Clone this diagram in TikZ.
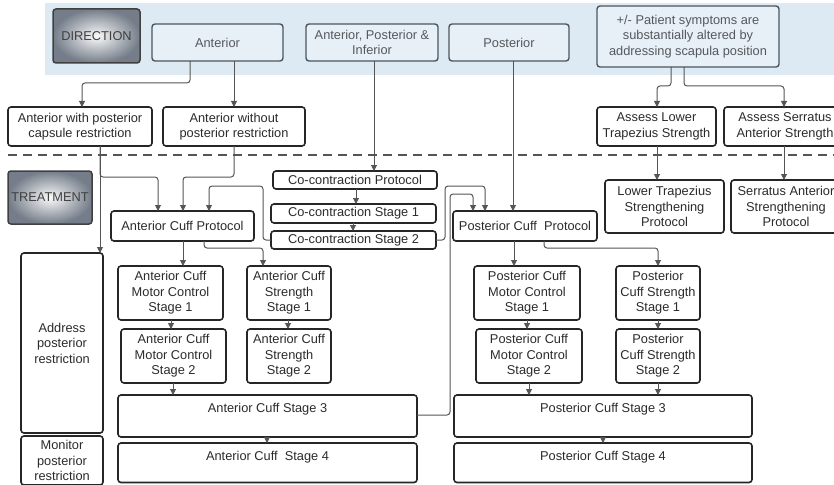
\documentclass[tikz,border=0pt]{standalone}
\usepackage{fontspec}
\setmainfont{Liberation Sans}
\usetikzlibrary{arrows.meta,calc}
\definecolor{band}{HTML}{DDEAF3}
\definecolor{tfill}{HTML}{E6F0F6}
\definecolor{tdraw}{HTML}{4A5660}
\definecolor{ttext}{HTML}{55595D}
\definecolor{btext}{HTML}{2B2B2B}
\definecolor{lcol}{HTML}{555555}
\definecolor{shadeout}{HTML}{747D89}
\begin{document}
\begin{tikzpicture}[x=1pt,y=-1pt,
  base/.style={rounded corners=3pt, anchor=north west, inner sep=1pt, outer sep=0pt, align=center, font=\fontsize{12.8}{15.5}\selectfont},
  tbox/.style={base, draw=tdraw, fill=tfill, line width=1.4pt, text=ttext},
  bbox/.style={base, draw=black!85, fill=white, line width=1.6pt, text=btext},
  hbox/.style={base, draw=black!75, line width=1.5pt, inner color=white!96!gray, outer color=shadeout, text=black!75},
  stbox/.style={bbox, inner ysep=0pt, text height=17.5pt},
  arr/.style={draw=lcol, line width=1pt, rounded corners=3pt, -{Triangle[length=6pt,width=6pt]}}]
\useasboundingbox (0,0) rectangle (834,484);
\fill[band] (45,3) rectangle (834,75);
% direction row
\node[hbox, minimum width=87pt, minimum height=54pt] (dir) at (53,9) {DIRECTION};
\node[tbox, minimum width=131pt, minimum height=37pt] (ant) at (152,24) {Anterior};
\node[tbox, minimum width=132pt, minimum height=37pt] (api) at (306,24) {Anterior, Posterior \&\\Inferior};
\node[tbox, minimum width=120pt, minimum height=37pt] (pos) at (449,24) {Posterior};
\node[tbox, minimum width=182pt, minimum height=61pt] (pat) at (597,6) {+/- Patient symptoms are\\substantially altered by\\addressing scapula position};
% second row
\node[bbox, minimum width=144pt, minimum height=39pt] (awp) at (8,107) {Anterior with posterior\\capsule restriction};
\node[bbox, minimum width=142pt, minimum height=39pt] (awo) at (163,107) {Anterior without\\posterior restriction};
\node[bbox, minimum width=119pt, minimum height=39pt] (alt) at (597,107) {Assess Lower\\Trapezius Strength};
\node[bbox, minimum width=122pt, minimum height=39pt] (asa) at (724,107) {Assess Serratus\\Anterior Strength};
\draw[lcol, line width=1.3pt, dash pattern=on 9pt off 6pt] (8,155) -- (834,155);
% treatment
\node[hbox, minimum width=84pt, minimum height=53pt, inner sep=0pt] (trt) at (8,171) {TREATMENT};
\node[bbox, minimum width=164pt, minimum height=18pt, inner sep=0pt] (ccp) at (273,171) {Co-contraction Protocol};
\node[bbox, minimum width=165pt, minimum height=19pt, inner sep=0pt] (cc1) at (271,204) {Co-contraction Stage 1};
\node[bbox, minimum width=165pt, minimum height=18pt, inner sep=0pt] (cc2) at (271,231) {Co-contraction Stage 2};
\node[bbox, minimum width=143pt, minimum height=30pt] (acp) at (111,211) {Anterior Cuff Protocol};
\node[bbox, minimum width=144pt, minimum height=30pt] (pcp) at (453,211) {Posterior Cuff\ \ Protocol};
\node[bbox, minimum width=119pt, minimum height=53pt] (ltp) at (605,180) {Lower Trapezius\\Strengthening\\Protocol};
\node[bbox, minimum width=110pt, minimum height=53pt] (sap) at (731,180) {Serratus Anterior\\Strengthening\\Protocol};
\node[bbox, minimum width=82pt, minimum height=180pt] (apr) at (21,253) {Address\\posterior\\restriction};
\node[bbox, minimum width=82pt, minimum height=49pt] (mpr) at (21,436) {Monitor\\posterior\\restriction};
\node[bbox, minimum width=105pt, minimum height=54pt] (amc1) at (118,266) {Anterior Cuff\\Motor Control\\Stage 1};
\node[bbox, minimum width=84pt, minimum height=54pt] (as1) at (247,266) {Anterior Cuff\\Strength\\Stage 1};
\node[bbox, minimum width=105pt, minimum height=54pt] (amc2) at (121,329) {Anterior Cuff\\Motor Control\\Stage 2};
\node[bbox, minimum width=84pt, minimum height=54pt] (as2) at (247,329) {Anterior Cuff\\Strength\\Stage 2};
\node[stbox, minimum width=299pt, text depth=24.5pt] (as3) at (118,395) {Anterior Cuff Stage 3};
\node[stbox, minimum width=299pt, text depth=22pt] (as4) at (118,443) {Anterior Cuff\ \ Stage 4};
\node[bbox, minimum width=106pt, minimum height=54pt] (pmc1) at (474,266) {Posterior Cuff\\Motor Control\\Stage 1};
\node[bbox, minimum width=84pt, minimum height=54pt] (ps1) at (616,266) {Posterior\\Cuff Strength\\Stage 1};
\node[bbox, minimum width=106pt, minimum height=54pt] (pmc2) at (476,329) {Posterior Cuff\\Motor Control\\Stage 2};
\node[bbox, minimum width=84pt, minimum height=54pt] (ps2) at (616,329) {Posterior\\Cuff Strength\\Stage 2};
\node[stbox, minimum width=298pt, text depth=24.5pt] (ps3) at (454,395) {Posterior Cuff Stage 3};
\node[stbox, minimum width=298pt, text depth=22pt] (ps4) at (454,443) {Posterior Cuff Stage 4};
% connectors
\draw[arr] ($(ant.south west)+(38,0)$) -- ++(0,22) -| ($(awp.north west)+(74,0)$);
\draw[arr] ($(ant.south west)+(82,0)$) -- ($(awo.north west)+(71,0)$);
\draw[arr] ($(api.south west)+(68,0)$) -- ($(ccp.north west)+(101,0)$);
\draw[arr] ($(pos.south west)+(64,0)$) -- ($(pcp.north west)+(60,0)$);
\draw[arr] ($(pat.south west)+(74,0)$) -- ++(0,19) -| ($(alt.north west)+(60,0)$);
\draw[arr] ($(pat.south west)+(87,0)$) -- ++(0,19) -| ($(asa.north west)+(60,0)$);
\draw[arr] ($(alt.south west)+(60,0)$) -- ($(ltp.north west)+(52,0)$);
\draw[arr] ($(asa.south west)+(60,0)$) -- ($(sap.north west)+(53,0)$);
\draw[arr] ($(awp.south west)+(92,0)$) -- ++(0,31) -| ($(acp.north west)+(47,0)$);
\draw[arr] ($(awp.south west)+(92,0)$) -- ($(apr.north west)+(79,0)$);
\draw[arr] ($(awo.south west)+(71,0)$) -- ++(0,31) -| ($(acp.north west)+(72,0)$);
\draw[arr] (cc2.west) -- ++(-8,0) -- ++(0,-54) -| ($(acp.north west)+(98,0)$);
\draw[arr] ($(ccp.south west)+(83,0)$) -- ($(cc1.north west)+(85,0)$);
\draw[arr] ($(cc1.south west)+(82,0)$) -- ($(cc2.north west)+(82,0)$);
\draw[arr] (cc2.east) -- ++(9,0) -- ++(0,-54) -| ($(pcp.north west)+(32,0)$);
\draw[arr] ($(as3.north east)+(0,20)$) -- ++(33,0) -- ++(0,-221) -| ($(pcp.north west)+(20,0)$);
\draw[arr] ($(acp.south west)+(72,0)$) -- ($(amc1.north west)+(65,0)$);
\draw[arr] ($(acp.south west)+(93,0)$) -- ++(0,7) -| ($(as1.north west)+(16,0)$);
\draw[arr] ($(amc1.south west)+(53,0)$) -- ($(amc2.north west)+(50,0)$);
\draw[arr] ($(as1.south west)+(41,0)$) -- ($(as2.north west)+(41,0)$);
\draw[arr] ($(amc2.south west)+(52,0)$) -- ($(as3.north west)+(55,0)$);
\draw[arr] ($(as3.south west)+(149,0)$) -- ($(as4.north west)+(149,0)$);
\draw[arr] ($(pcp.south west)+(61,0)$) -- ($(pmc1.north west)+(40,0)$);
\draw[arr] ($(pcp.south west)+(91,0)$) -- ++(0,7) -| ($(ps1.north west)+(42,0)$);
\draw[arr] ($(pmc1.south west)+(53,0)$) -- ($(pmc2.north west)+(51,0)$);
\draw[arr] ($(ps1.south west)+(42,0)$) -- ($(ps2.north west)+(42,0)$);
\draw[arr] ($(pmc2.south west)+(53,0)$) -- ($(ps3.north west)+(75,0)$);
\draw[arr] ($(ps2.south west)+(42,0)$) -- ($(ps3.north west)+(204,0)$);
\draw[arr] ($(ps3.south west)+(149,0)$) -- ($(ps4.north west)+(149,0)$);
\end{tikzpicture}
\end{document}
